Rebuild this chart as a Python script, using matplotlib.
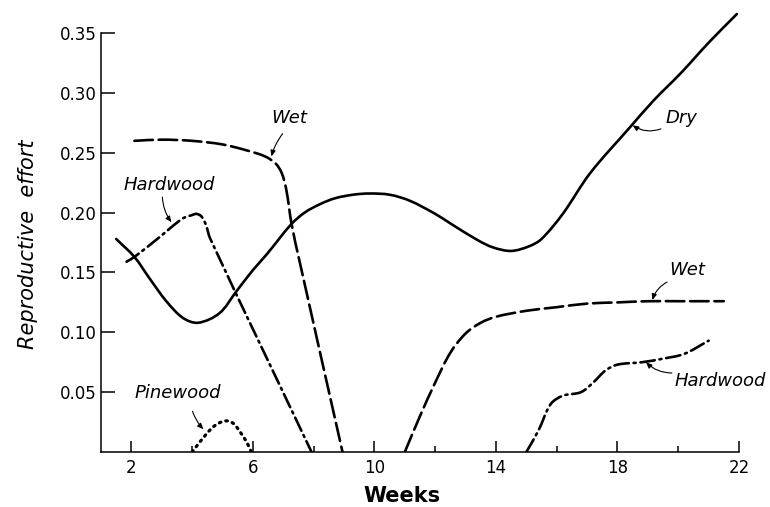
import matplotlib
matplotlib.use("Agg")
import numpy as np
import matplotlib.pyplot as plt
from matplotlib.path import Path
from matplotlib.patches import PathPatch
from matplotlib.ticker import FixedLocator

plt.rcParams['font.family'] = ['DejaVu Sans']

# Reproductive effort over the season (weeks), by habitat
dry_weeks = [1.5, 2.1, 2.6, 3.15, 3.7, 4.2, 4.9, 5.45, 6.0, 6.45, 7.25, 7.7, 8.2,
             8.7, 9.3, 9.84, 10.5, 11.16, 12.0, 12.5, 13.4, 13.9, 14.5, 15.1, 15.5,
             16.2, 17.1, 18.4, 19.2, 20.1, 21.0, 21.93]
dry_effort = [0.178, 0.163, 0.145, 0.126, 0.112, 0.108, 0.116, 0.134, 0.152, 0.165,
              0.190, 0.200, 0.207, 0.212, 0.215, 0.216, 0.215, 0.210, 0.199, 0.191,
              0.177, 0.171, 0.168, 0.172, 0.178, 0.199, 0.233, 0.271, 0.294, 0.317,
              0.342, 0.366]

wet_early_weeks = [2.1, 3.0, 4.0, 5.0, 5.8, 6.4, 6.75, 6.95, 7.1, 7.27, 7.53, 8.95]
wet_early_effort = [0.260, 0.261, 0.260, 0.257, 0.252, 0.247, 0.241, 0.233, 0.219,
                    0.191, 0.160, 0.0]

wet_late_weeks = [11.0, 11.5, 12.0, 12.5, 13.0, 13.5, 14.0, 15.0, 16.0, 17.0, 18.0,
                  19.0, 20.0, 21.5]
wet_late_effort = [0.0, 0.030, 0.058, 0.083, 0.099, 0.108, 0.113, 0.118, 0.121,
                   0.124, 0.125, 0.126, 0.126, 0.126]

hard_early_weeks = [1.84, 2.1, 2.9, 3.68, 4.0, 4.14, 4.3, 4.45, 4.6, 7.93]
hard_early_effort = [0.159, 0.163, 0.179, 0.195, 0.198, 0.199, 0.197, 0.190, 0.178,
                     0.0]

hard_late_weeks = [15.0, 15.4, 15.8, 16.2, 16.8, 17.2, 17.6, 18.0, 18.8, 19.5,
                   20.2, 21.0]
hard_late_effort = [0.0, 0.018, 0.040, 0.047, 0.050, 0.058, 0.068, 0.073, 0.075,
                    0.078, 0.082, 0.093]

pine_weeks = [4.0, 4.5, 4.8, 5.1, 5.35, 5.6, 5.8, 5.95]
pine_effort = [0.0, 0.016, 0.023, 0.026, 0.024, 0.016, 0.008, 0.0]

x_major = [2, 6, 10, 14, 18, 22]
x_minor = [4, 8, 12, 16, 20]
y_ticks = [0.05, 0.10, 0.15, 0.20, 0.25, 0.30, 0.35]
y_ticklabels = ['0.05', '0.10', '0.15', '0.20', '0.25', '0.30', '0.35']

YSCALE = 39.3  # effort units -> week-equivalent units for chord lengths


def smooth_path(xs, ys):
    """Cubic Bezier path through the points (Catmull-Rom style tangents)."""
    p = np.column_stack([np.asarray(xs, float), np.asarray(ys, float) * YSCALE])
    d = np.linalg.norm(np.diff(p, axis=0), axis=1)
    n = len(p)
    tang = np.zeros_like(p)
    tang[0] = (p[1] - p[0]) / d[0]
    tang[-1] = (p[-1] - p[-2]) / d[-1]
    for i in range(1, n - 1):
        tang[i] = (p[i + 1] - p[i - 1]) / (d[i - 1] + d[i])
    verts = [p[0]]
    codes = [Path.MOVETO]
    for i in range(n - 1):
        verts += [p[i] + tang[i] * d[i] / 3, p[i + 1] - tang[i + 1] * d[i] / 3, p[i + 1]]
        codes += [Path.CURVE4] * 3
    verts = np.array(verts)
    verts[:, 1] /= YSCALE
    return Path(verts, codes)


fig = plt.figure(figsize=(7.7, 5.07), dpi=100)
ax = fig.add_axes([101 / 770, 1 - 452 / 507, (739 - 101) / 770, (452 - 11.6) / 507])

lw = 1.9
dash = (0, (7, 2.2))
dashdot = (0, (5.5, 1.8, 0.8, 1.8))
dotted = (0, (0.5, 1.6))

series = [
    (dry_weeks, dry_effort, '-', lw),
    (wet_early_weeks, wet_early_effort, dash, lw),
    (wet_late_weeks, wet_late_effort, dash, lw),
    (hard_early_weeks, hard_early_effort, dashdot, lw),
    (hard_late_weeks, hard_late_effort, dashdot, lw),
    (pine_weeks, pine_effort, dotted, 2.3),
]
for xs, ys, ls, w in series:
    ax.add_patch(PathPatch(smooth_path(xs, ys), fill=False, edgecolor='black',
                           lw=w, linestyle=ls, capstyle='round', joinstyle='round'))

ax.set_xlim(1, 22)
ax.set_ylim(0, 0.368)

for side in ('top', 'right'):
    ax.spines[side].set_visible(False)
ax.spines['left'].set_bounds(0, 0.35)
for side in ('left', 'bottom'):
    ax.spines[side].set_linewidth(1.1)

ax.xaxis.set_major_locator(FixedLocator(x_major))
ax.xaxis.set_minor_locator(FixedLocator(x_minor))
ax.set_yticks(y_ticks)
ax.set_yticklabels(y_ticklabels)
ax.tick_params(axis='x', which='major', direction='in', length=8, width=1.1,
               labelsize=12, pad=5)
ax.tick_params(axis='x', which='minor', direction='in', length=4.5, width=1.1)
ax.tick_params(axis='y', which='major', direction='in', length=10, width=1.1,
               labelsize=12, pad=3)

fig.text(402 / 770, 1 - 496 / 507, 'Weeks', ha='center', va='center',
         fontsize=15, fontweight='semibold')
fig.text(28 / 770, 1 - 244 / 507, 'Reproductive  effort', ha='center', va='center',
         rotation=90, fontsize=15, style='italic')

label_kw = dict(ha='center', va='center', fontsize=13, style='italic')
arrow_kw = dict(arrowstyle='-|>,head_length=0.35,head_width=0.15', color='black',
                lw=0.8, shrinkA=0, shrinkB=0)

curve_labels = [
    ('Hardwood', (3.25, 0.223), (3.02, 0.213), (3.32, 0.192), 0.15),
    ('Wet', (7.21, 0.279), (6.98, 0.266), (6.61, 0.247), 0.1),
    ('Dry', (20.12, 0.279), (19.43, 0.270), (18.50, 0.273), -0.25),
    ('Pinewood', (3.52, 0.049), (4.01, 0.034), (4.37, 0.019), 0.1),
    ('Wet', (20.29, 0.152), (19.63, 0.142), (19.15, 0.127), 0.2),
    ('Hardwood', (21.37, 0.059), (19.79, 0.066), (18.94, 0.075), -0.2),
]
for text, pos, tail, head, rad in curve_labels:
    ax.text(pos[0], pos[1], text, clip_on=False, **label_kw)
    ax.annotate('', xy=head, xytext=tail, annotation_clip=False,
                arrowprops=dict(connectionstyle=f'arc3,rad={rad}', **arrow_kw))

fig.savefig('out.png', dpi=100)
